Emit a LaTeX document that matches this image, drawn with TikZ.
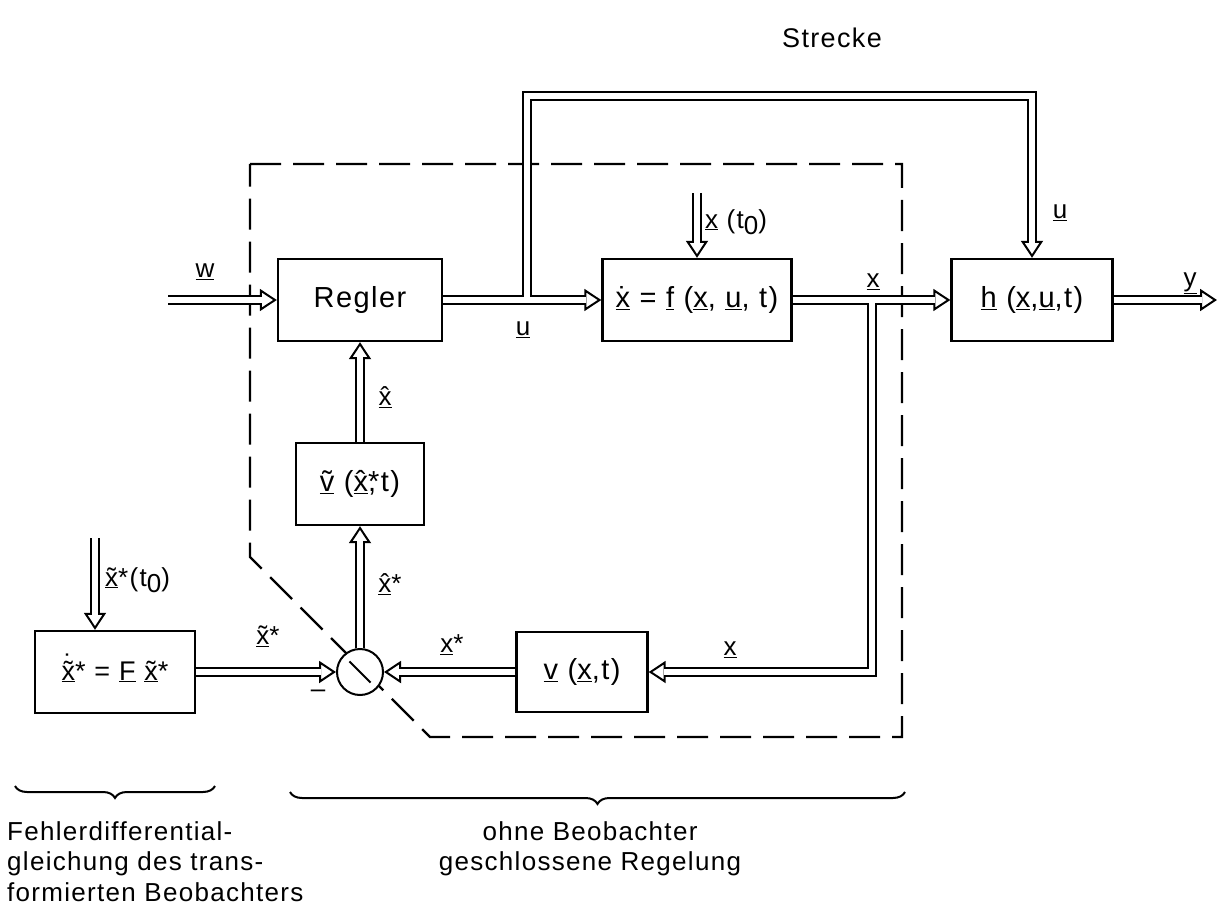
\documentclass[tikz,border=0pt]{standalone}
\usepackage{fontspec}
\setmainfont{Liberation Sans}[LetterSpace=5]
\usetikzlibrary{arrows.meta,decorations.pathreplacing}
\newcommand\U[1]{\underline{#1}}
\newcommand\acc[2]{{\ooalign{#2\cr\hidewidth#1\hidewidth\cr}}}
\newcommand\dX{\acc{˙}{x}}
\newcommand\hX{\acc{ˆ}{x}}
\newcommand\tX{\acc{˜}{x}}
\newcommand\tV{\acc{˜}{v}}
\newcommand\dtX{\acc{\raisebox{7pt}{˙}}{\tX}}
\newcommand\tnull{t\raisebox{-6pt}{0}}
\newcommand\darr[1]{\draw[tipline] #1; \draw[dbl, shorten >=15pt] #1;}
\tikzset{
 blk/.style={draw, line width=2.4pt, rectangle, inner sep=2pt, font=\fontsize{29}{34}\selectfont},
 lbl/.style={inner sep=1pt, font=\fontsize{26}{30}\selectfont},
 captxt/.style={inner sep=1pt, font=\fontsize{26}{30.5}\selectfont},
 dbl/.style={line width=2pt, double=white, double distance=6pt},
 tipline/.style={line width=2pt, -{Triangle[open, length=17pt, width=22pt, line width=2pt]}},
 dashbox/.style={line width=2.4pt, dash pattern=on 31pt off 12pt},
 brc/.style={line width=2pt, decorate, decoration={brace, mirror, amplitude=12pt}},
}
\begin{document}
\begin{tikzpicture}[x=1pt, y=-1pt]
\useasboundingbox (0,0) rectangle (1219,915);
% observer boundary
\draw[dashbox] (250,164) -- (902,164) -- (902,737) -- (430,737) -- (250,557) -- cycle;
% blocks
\node[blk, minimum width=164pt, minimum height=82pt] (reg) at (360,300) {Regler};
\node[blk, minimum width=189pt, minimum height=82pt] (f) at (697,300) {\U{\dX} = \U{f} (\U{x}, \U{u}, t)};
\node[blk, minimum width=161pt, minimum height=82pt] (h) at (1032,300) {\U{h} (\U{x},\U{u},t)};
\node[blk, minimum width=128pt, minimum height=82pt] (vt) at (360,484) {\U{\tV} (\U{\hX}\rlap{*},\,t)};
\node[blk, minimum width=131pt, minimum height=80pt] (v) at (582,672) {\U{v} (\U{x},t)};
\node[blk, minimum width=160pt, minimum height=82pt, font=\fontsize{27}{32}\selectfont] (fb) at (115,672) {\U{\dtX}* = \U{F} \U{\tX}*};
\node[circle, draw, fill=white, line width=2pt, minimum size=46pt, inner sep=0pt] (sum) at (360,672) {};
\draw[line width=2pt, shorten >=9pt, shorten <=9pt] (sum.north west) -- (sum.south east);
% connector points
\coordinate (win) at (168,300);
\coordinate (uj) at (527,300);
\coordinate (tl) at (527,96);
\coordinate (tr) at (1032,96);
\coordinate (x0) at (697,193);
\coordinate (xj) at (872,300);
\coordinate (xb) at (872,672);
\coordinate (yout) at (1217,300);
\coordinate (xt0) at (95,538);
% connectors
\darr{(uj) -- (tl) -- (tr) -- (h.north)}
\darr{(reg.east) -- (f.west)}
\draw[white, line width=6pt] (uj) -- ++(0,-6);
\darr{(win) -- (reg.west)}
\darr{(x0) -- (f.north)}
\darr{(xj) -- (xb) -- (v.east)}
\darr{(f.east) -- (h.west)}
\draw[white, line width=6pt] (xj) -- ++(0,6);
\darr{(h.east) -- (yout)}
\darr{(v.west) -- (sum.east)}
\darr{(fb.east) -- (sum.west)}
\darr{(sum.north) -- (vt.south)}
\darr{(vt.north) -- (reg.south)}
\darr{(xt0) -- (xt0 |- fb.north)}
% labels
\node[lbl] (lw) at (205,272) {\U{w}};
\node[lbl] (lu1) at (523,330) {\U{u}};
\node[lbl] (lu2) at (1060,213) {\U{u}};
\node[lbl] (lx1) at (873,282) {\U{x}};
\node[lbl] (ly) at (1190,283) {\U{y}};
\node[lbl, anchor=west] (lx0) at (704,222) {\U{x} (\tnull)};
\node[lbl] (lhx) at (385,400) {\U{\hX}};
\node[lbl] (lhxs) at (390,585) {\U{\hX}*};
\node[lbl] (ltxs) at (268,637) {\U{\tX}*};
\node[lbl, anchor=west] (ltx0) at (104,580) {\U{\tX}*(\tnull)};
\node[lbl] (lxs) at (452,645) {\U{x}*};
\node[lbl] (lx2) at (730,650) {\U{x}};
\node[lbl] (lminus) at (318,694) {–};
\node[lbl, font=\fontsize{27}{30}\selectfont] (lstr) at (832,38) {Strecke};
% braces and captions
\draw[brc] (15,786) -- (215,786);
\draw[brc] (290,792) -- (905,792);
\node[captxt, anchor=north west, align=left] (cap1) at (6,820) {Fehlerdifferential-\\gleichung des trans-\\formierten Beobachters};
\node[captxt, anchor=north, align=center] (cap2) at (590,820) {ohne Beobachter\\geschlossene Regelung};
\end{tikzpicture}
\end{document}
